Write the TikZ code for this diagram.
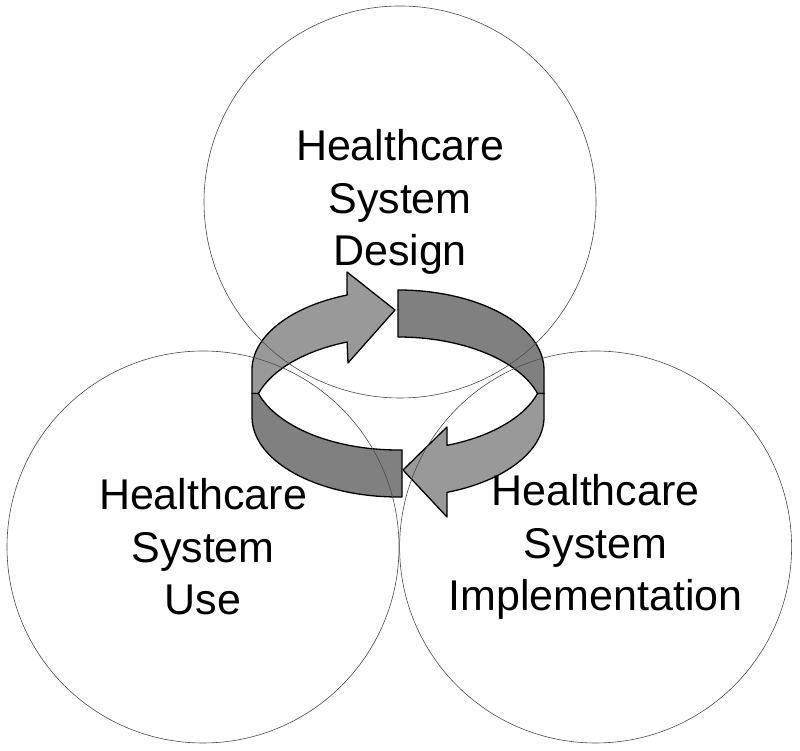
\documentclass[tikz,border=0pt]{standalone}
\usepackage{fontspec}
\setmainfont{Liberation Sans}
\usetikzlibrary{positioning}

\begin{document}
\begin{tikzpicture}[x=1pt, y=1pt,
    phase/.style={circle, draw=black!70, line width=0.6pt, minimum size=392pt, inner sep=0pt,
      align=center, font=\fontsize{43}{52.5}\selectfont},
    rim/.style={x radius=146, y radius=80},
    band/.style={draw=black, line width=1.3pt, line join=round},
    headband/.style={band, fill=black!40},
    tailband/.style={band, fill=black!50}]
  \useasboundingbox (0,0) rectangle (800,751);
  \coordinate (uc) at (398,381);
  \coordinate (lc) at (398,334);

  \draw[tailband] ([shift={(uc)}]90:146 and 80) arc[rim, start angle=90, end angle=0]
    -- (544,357.5) -- ([shift={(lc)}]17.1:146 and 80) arc[rim, start angle=17.1, end angle=90] -- cycle;
  \draw[headband] ([shift={(uc)}]180:146 and 80) arc[rim, start angle=180, end angle=110.4]
    -- (347,479) -- (395,441) -- (348,388) -- ([shift={(lc)}]110.4:146 and 80)
    arc[rim, start angle=110.4, end angle=162.9] -- (252,357.5) -- cycle;
  \draw[tailband] ([shift={(lc)}]180:146 and 80) arc[rim, start angle=180, end angle=271.6]
    -- ([shift={(uc)}]271.6:146 and 80) arc[rim, start angle=271.6, end angle=197.1]
    -- (252,357.5) -- cycle;
  \draw[headband] ([shift={(uc)}]342.9:146 and 80) arc[rim, start angle=342.9, end angle=289.6]
    -- (447,324) -- (403,281) -- (447,234) -- ([shift={(lc)}]289.6:146 and 80)
    arc[rim, start angle=289.6, end angle=360] -- (544,357.5) -- cycle;

  \node[phase] (design) at (400,549) {Healthcare\\System\\Design};
  \node[phase] (use) at (203,204) {Healthcare\\System\\Use};
  \node[phase, right=0pt of use] (impl) {Healthcare\\System\\Implementation};
\end{tikzpicture}
\end{document}
